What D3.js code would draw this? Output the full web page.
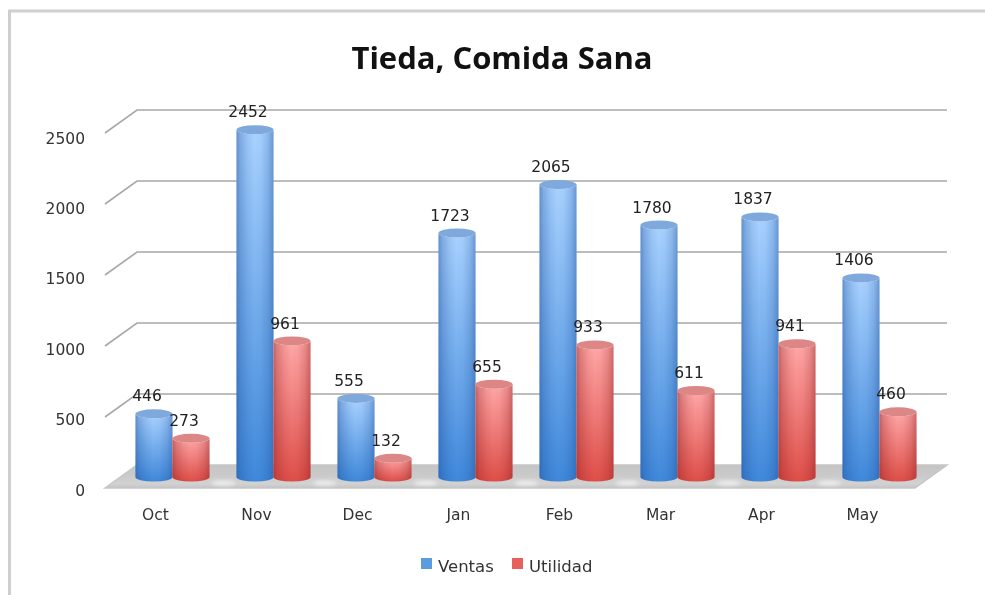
<!DOCTYPE html>
<html><head><meta charset="utf-8">
<script src="https://cdn.jsdelivr.net/npm/d3@7"></script>
<style>html,body{margin:0;padding:0;background:#fff;overflow:hidden}svg{display:block;filter:blur(.7px)}
text{font-family:"DejaVu Sans",sans-serif;fill:#333}</style></head><body>
<svg id="c" width="985" height="595"></svg>
<script>
const chartTitle = "Tieda, Comida Sana";
const categories = ["Oct","Nov","Dec","Jan","Feb","Mar","Apr","May"];
const seriesNames = ["Ventas","Utilidad"];
const ventas = [446,2452,555,1723,2065,1780,1837,1406];
const utilidad = [273,961,132,655,933,611,941,460];
const tickValues = [0,500,1000,1500,2000,2500];

const svg = d3.select("#c");
const defs = svg.append("defs");
const W=985;

// scales
const x = d3.scaleBand().domain(categories).range([105,913]);
const sub = d3.scaleBand().domain(seriesNames).range([0,74]);
const yBack = d3.scaleLinear().domain([0,2500]).range([465,110]);
const yFront = d3.scaleLinear().domain([0,2500]).range([488,133]);
const yLabel = d3.scaleLinear().domain([0,2500]).range([490,138]);
const yBar = d3.scaleLinear().domain([0,2500]).range([477,123]);
const depthX = 32, floorRight = 915;
const color = d3.scaleOrdinal().domain(seriesNames).range(["blue","red"]);

// gradients
const pal = {blue:{top:"#a9d2ff",bot:"#3f88da",cap:"#7fa8dc",leg:"#5b9be0",edge:"#1d4f9c"},
             red:{top:"#ffa8a8",bot:"#de4e48",cap:"#dc8686",leg:"#e8605c",edge:"#8f1f1f"}};
Object.entries(pal).forEach(([k,p])=>{
  const v=defs.append("linearGradient").attr("id","v-"+k).attr("x1",0).attr("x2",0).attr("y1",0).attr("y2",1);
  v.append("stop").attr("offset",0).attr("stop-color",p.top);
  v.append("stop").attr("offset",1).attr("stop-color",p.bot);
  const h=defs.append("linearGradient").attr("id","shade-"+k);
  [[0,.5],[.1,.3],[.3,.1],[.48,0],[.65,.03],[.85,.2],[1,.45]].forEach(s=>h.append("stop").attr("offset",s[0]).attr("stop-color",p.edge).attr("stop-opacity",s[1]));
});
const fl=defs.append("linearGradient").attr("id","floor").attr("x1",0).attr("x2",0).attr("y1",0).attr("y2",1);
[[0,"#c4c4c4"],[.5,"#cbcbcb"],[.82,"#d2d2d2"],[1,"#c4c4c4"]].forEach(s=>fl.append("stop").attr("offset",s[0]).attr("stop-color",s[1]));
defs.append("filter").attr("id","soft").attr("x","-60%").attr("y","-400%").attr("width","220%").attr("height","900%")
  .append("feGaussianBlur").attr("stdDeviation",2);

// frame
svg.append("path").attr("d",`M${W},11H9.5V595`).attr("fill","none").attr("stroke","#cfcfcf").attr("stroke-width",3);

// title
svg.append("text").attr("x",502).attr("y",69).attr("text-anchor","middle")
  .style("font-family","'Open Sans'").style("font-weight",700).style("font-size","31px").style("fill","#111").text(chartTitle);

// grid
const backL=105+depthX, backR=floorRight+depthX;
svg.append("g").selectAll("path").data(tickValues.slice(1)).join("path")
  .attr("d",d=>`M105,${yFront(d)}L${backL},${yBack(d)}H${backR}`)
  .attr("fill","none").attr("stroke","#a8a8a8").attr("stroke-width",1.6);

// floor
svg.append("path").attr("d",`M105,${yFront(0)}L${backL},${yBack(0)}H${backR}L${floorRight},${yFront(0)}Z`)
  .attr("fill","url(#floor)").attr("stroke","#c6c6c6").attr("stroke-width",1.5);
svg.append("g").selectAll("ellipse").data(categories.slice(0,-1)).join("ellipse")
  .attr("cx",d=>x(d)+x.bandwidth()/2+17+37+14).attr("cy",483).attr("rx",12).attr("ry",2)
  .attr("fill","#fff").attr("opacity",.8).attr("filter","url(#soft)");

// axis labels
svg.append("g").selectAll("text").data(tickValues).join("text")
  .attr("x",85).attr("y",d=>yLabel(d)).attr("dy","0.36em").attr("text-anchor","end")
  .style("font-size","15.5px").text(d=>d);
svg.append("g").selectAll("text").data(categories).join("text")
  .attr("x",d=>x(d)+x.bandwidth()/2).attr("y",514).attr("dy","0.36em").attr("text-anchor","middle")
  .style("font-size","15.5px").text(d=>d);

// bars
const rows = categories.flatMap((c,i)=>[{c,s:seriesNames[0],v:ventas[i]},{c,s:seriesNames[1],v:utilidad[i]}]);
const bw=sub.bandwidth(), ry=4.5;
const bx=d=>x(d.c)+x.bandwidth()/2-20+sub(d.s);
const bars=svg.append("g").selectAll("g").data(rows).join("g").attr("transform",d=>`translate(${bx(d)},0)`);
const body=d=>{const t=yBar(d.v),b=yBar(0);return `M0,${t}V${b}A${bw/2},${ry} 0 0 0 ${bw},${b}V${t}A${bw/2},${ry} 0 0 1 0,${t}Z`;};
bars.append("path").attr("d",body).attr("fill",d=>`url(#v-${color(d.s)})`);
bars.append("path").attr("d",body).attr("fill",d=>`url(#shade-${color(d.s)})`);
bars.append("ellipse").attr("cx",bw/2).attr("cy",d=>yBar(d.v)).attr("rx",bw/2).attr("ry",ry)
  .attr("fill",d=>pal[color(d.s)].cap);

// value labels
svg.append("g").selectAll("text").data(rows).join("text")
  .attr("x",d=>bx(d)+bw/2-7).attr("y",d=>yBar(d.v)-18).attr("dy","0.36em").attr("text-anchor","middle")
  .style("font-size","15.5px").style("fill","#222").text(d=>d.v);

// legend
const legX=d3.scaleOrdinal().domain(seriesNames).range([421,512]);
const lg=svg.append("g").selectAll("g").data(seriesNames).join("g").attr("transform",d=>`translate(${legX(d)},0)`);
lg.append("rect").attr("y",558).attr("width",11).attr("height",11).attr("fill",d=>pal[color(d)].leg);
lg.append("text").attr("x",17).attr("y",566).attr("dy","0.36em").style("font-size","16.5px").text(d=>d);
</script></body></html>
